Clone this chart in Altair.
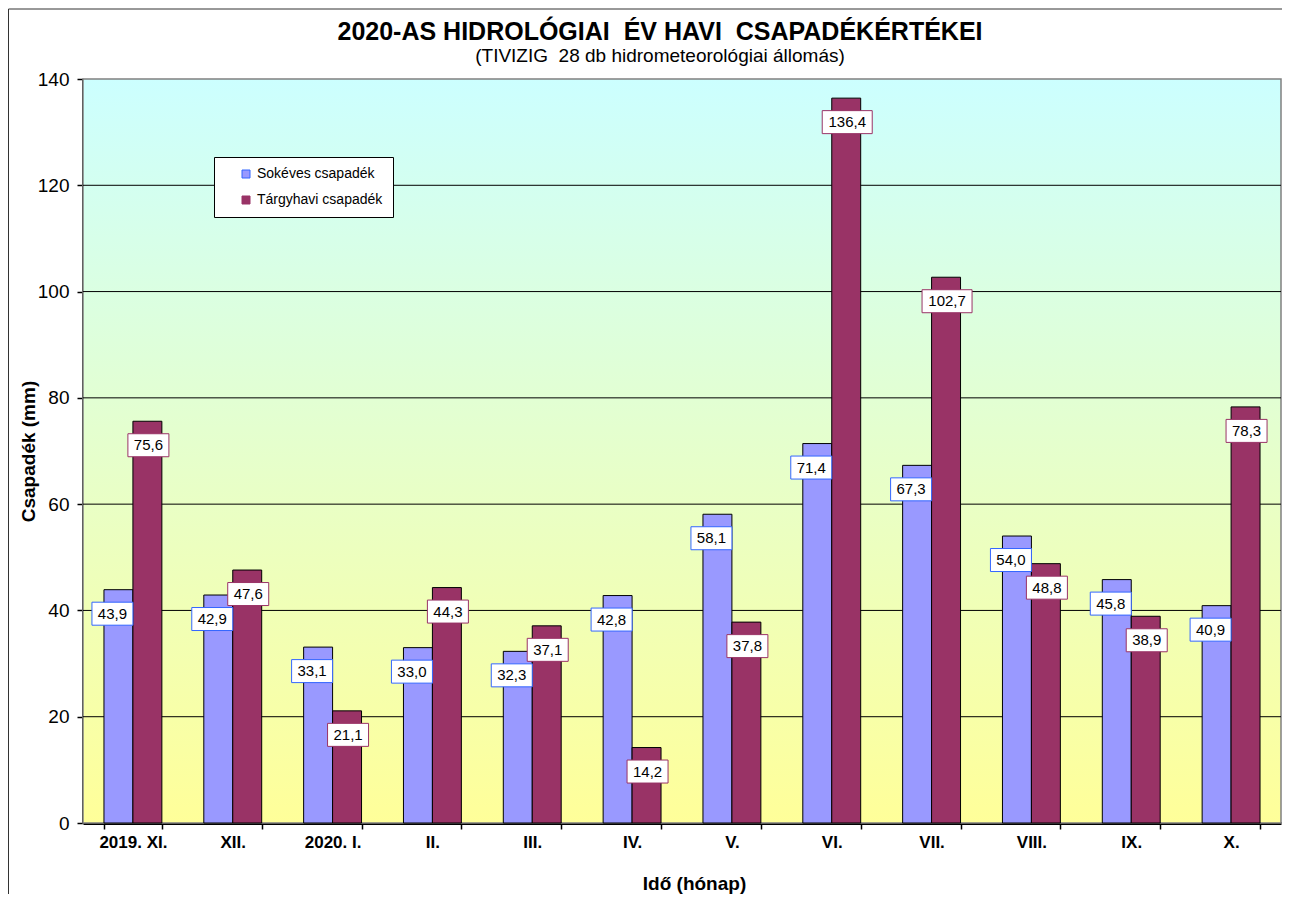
import altair as alt
import pandas as pd

# ---- data ----
months = ["2019. XI.", "XII.", "2020. I.", "II.", "III.", "IV.", "V.", "VI.",
          "VII.", "VIII.", "IX.", "X."]
sokeves = [43.9, 42.9, 33.1, 33.0, 32.3, 42.8, 58.1, 71.4, 67.3, 54.0, 45.8, 40.9]
targyhavi = [75.6, 47.6, 21.1, 44.3, 37.1, 14.2, 37.8, 136.4, 102.7, 48.8, 38.9, 78.3]
series_names = ["Sokéves csapadék", "Tárgyhavi csapadék"]
y_ticks = [0, 20, 40, 60, 80, 100, 120, 140]
grid_values = [20, 40, 60, 80, 100, 120]

rows = []
for m, a, b in zip(months, sokeves, targyhavi):
    rows.append({"month": m, "series": series_names[0], "value": a})
    rows.append({"month": m, "series": series_names[1], "value": b})
df = pd.DataFrame(rows)
grid_df = pd.DataFrame({"value": grid_values})
one_df = pd.DataFrame({"k": [0]})

W, H = 1198, 744
FONT = "Liberation Sans"
BAR_COLORS = ["#9999FF", "#993366"]
BOX_STROKES = ["#3366FF", "#993366"]
SHIFT_A, SHIFT_B = -6, 1   # label box horizontal nudge (px) per series

x_enc = alt.X(
    "month:N", sort=months,
    scale=alt.Scale(domain=months, paddingInner=0.42, paddingOuter=0.21),
    axis=alt.Axis(
        title="Idő (hónap)", titleFont=FONT, titleFontSize=19, titleFontWeight="bold",
        titleColor="black", titleX=611, titleY=66, titleAlign="center",
        titleBaseline="alphabetic",
        labelAngle=0, labelFont=FONT, labelFontSize=17, labelFontWeight="bold",
        labelColor="black", labelPadding=5,
        tickBand="extent", tickSize=6, tickColor="black", tickWidth=1.5,
        domainColor="black", domainWidth=3, grid=False,
    ),
)
xoff_enc = alt.XOffset(
    "series:N", sort=series_names,
    scale=alt.Scale(domain=series_names, paddingInner=0, paddingOuter=0),
)
y_enc = alt.Y(
    "value:Q",
    scale=alt.Scale(domain=[0, 140], nice=False, zero=True),
    axis=alt.Axis(
        values=y_ticks, format="d", title="Csapadék (mm)", titleFont=FONT,
        titleFontSize=19, titleFontWeight="bold", titleColor="black",
        titleAngle=-90, titleX=-45, titleY=372, titleAlign="center",
        titleBaseline="bottom",
        labelFont=FONT, labelFontSize=19, labelColor="black", labelPadding=8,
        tickSize=6, tickColor="black", tickWidth=1.5,
        domainColor="black", domainWidth=3, grid=False,
    ),
)

# outer chart frame
frame = alt.Chart(one_df).mark_rect(
    fill="transparent", stroke="#333333", strokeWidth=1
).encode(
    x=alt.value(-74.5), x2=alt.value(W + 40), y=alt.value(-70), y2=alt.value(H + 120)
)

# gradient plot background
background = alt.Chart(one_df).mark_rect(
    fill=alt.Gradient(
        gradient="linear",
        stops=[alt.GradientStop(color="#CCFFFF", offset=0),
               alt.GradientStop(color="#FFFF99", offset=1)],
        x1=0, x2=0, y1=0, y2=1,
    ),
    stroke="#808080", strokeWidth=1.5,
).encode(x=alt.value(0), x2=alt.value(W), y=alt.value(0), y2=alt.value(H))

grid = alt.Chart(grid_df).mark_rule(color="black", strokeWidth=1).encode(y=y_enc)

bars = alt.Chart(df).mark_bar(stroke="black", strokeWidth=1).encode(
    x=x_enc, xOffset=xoff_enc, y=y_enc,
    color=alt.Color(
        "series:N", sort=series_names,
        scale=alt.Scale(domain=series_names, range=BAR_COLORS),
        legend=alt.Legend(
            title=None, orient="none", legendX=131, legendY=78,
            fillColor="white", strokeColor="black", padding=10,
            symbolType="square", symbolSize=64, symbolStrokeColor="black",
            symbolStrokeWidth=1, symbolOffset=15, labelOffset=4,
            labelFont=FONT, labelFontSize=14, labelColor="black", rowPadding=12,
            labelExpr="datum.label + '\u00a0\u00a0\u00a0\u00a0\u00a0\u00a0'",
        ),
    ),
)

labelled = alt.Chart(df).transform_calculate(
    label="replace(format(datum.value, '.1f'), '.', ',')"
).transform_calculate(
    shp=f"(datum.series == '{series_names[0]}' ? 'a' : 'b') + "
        "(length(datum.label) > 4 ? 'w' : 'n')"
)


def box_path(half_w, shift_px, scale=25.0, half_h=0.46):
    """Rectangle label-box outline in symbol units (size 2500 -> 25 px per unit)."""
    s = shift_px / scale
    l, r = -half_w + s, half_w + s
    return f"M{l:.3f},{-half_h}L{r:.3f},{-half_h}L{r:.3f},{half_h}L{l:.3f},{half_h}Z"


boxes = labelled.mark_point(
    filled=True, fill="white", opacity=1, strokeWidth=1, yOffset=24, size=2500,
).encode(
    x=x_enc, xOffset=xoff_enc, y=y_enc,
    shape=alt.Shape(
        "shp:N",
        scale=alt.Scale(
            domain=["an", "aw", "bn", "bw"],
            range=[box_path(0.82, SHIFT_A), box_path(1.0, SHIFT_A),
                   box_path(0.82, SHIFT_B), box_path(1.0, SHIFT_B)],
        ),
        legend=None,
    ),
    stroke=alt.Stroke("series:N",
                      scale=alt.Scale(domain=series_names, range=BOX_STROKES),
                      legend=None),
)


def text_layer(series, shift):
    return labelled.transform_filter(alt.datum.series == series).mark_text(
        font=FONT, fontSize=15, color="black", dy=24, dx=shift,
        baseline="middle", align="center",
    ).encode(x=x_enc, xOffset=xoff_enc, y=y_enc, text="label:N")


txt_a = text_layer(series_names[0], SHIFT_A)
txt_b = text_layer(series_names[1], SHIFT_B)

chart = alt.layer(frame, background, grid, bars, boxes, txt_a, txt_b).properties(
    width=W, height=H,
    autosize=alt.AutoSizeParams(type="none"),
    padding={"left": 75, "top": 71, "right": 1, "bottom": 71},
    title=alt.TitleParams(
        text="2020-AS HIDROLÓGIAI\u00a0 ÉV HAVI\u00a0 CSAPADÉKÉRTÉKEI",
        subtitle="(TIVIZIG\u00a0 28 db hidrometeorológiai állomás)",
        font=FONT, fontSize=25, fontWeight="bold", color="black",
        subtitleFont=FONT, subtitleFontSize=19, subtitleColor="black",
        subtitlePadding=2, anchor="middle", dx=-22, dy=67, offset=10,
    ),
).configure_view(stroke="transparent").configure_axis(zindex=1)

chart.save("out.html", embed_options={"renderer": "svg", "actions": False})
